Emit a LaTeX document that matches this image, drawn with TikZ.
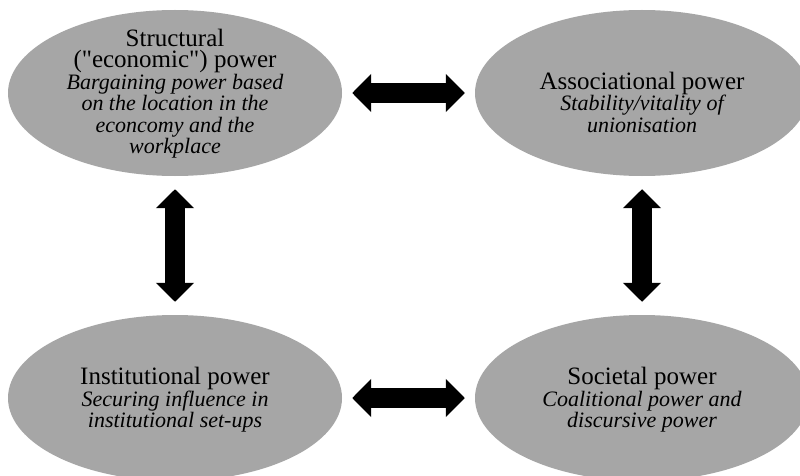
\documentclass[tikz,border=0pt]{standalone}
\usepackage{fontspec}
\setmainfont{Liberation Serif}[Ligatures=TeXOff]
\usetikzlibrary{shapes.geometric,arrows.meta}
\definecolor{ellgrey}{RGB}{166,166,166}
\newcommand{\ttl}{\fontsize{25}{21.5}\selectfont}
\newcommand{\sbt}{\fontsize{22}{21.5}\selectfont\itshape}
\tikzset{
  ell/.style={ellipse, fill=ellgrey, draw=none, minimum width=334pt, minimum height=166pt, inner sep=0pt},
  txt/.style={align=center, inner sep=0pt, font={\lineskiplimit=-30pt\lineskip=0pt\ttl}},
  bigarrow/.style={draw=black, line width=20pt, {Triangle[length=19pt,width=37pt]}-{Triangle[length=19pt,width=37pt]}},
  hgap/.style={shorten <=10pt, shorten >=10pt},
  vgap/.style={shorten <=13pt, shorten >=13pt}
}
\begin{document}
\begin{tikzpicture}[x=1pt,y=-1pt]
\fill[white] (0,0) rectangle (800,476);
\clip (0,0) rectangle (800,476);
\node[ell] (sl) at (175,93) {};
\node[ell] (al) at (642,93) {};
\node[ell] (il) at (175,398) {};
\node[ell] (sp) at (642,398) {};
\node[txt] (slt) at ([yshift=-0.5pt]sl.center) {{\ttl Structural}\\{\ttl ("economic") power}\\{\sbt Bargaining power based}\\{\sbt on the location in the}\\{\sbt econcomy and the}\\{\sbt workplace}};
\node[txt] (alt) at ([yshift=-9pt]al.center) {{\ttl Associational power}\\{\sbt Stability/vitality of}\\{\sbt unionisation}};
\node[txt] (ilt) at ([yshift=-2pt]il.center) {{\ttl Institutional power}\\{\sbt Securing influence in}\\{\sbt institutional set-ups}};
\node[txt] (spt) at ([yshift=-2pt]sp.center) {{\ttl Societal power}\\{\sbt Coalitional power and}\\{\sbt discursive power}};
\draw[bigarrow,hgap] (sl) -- (al);
\draw[bigarrow,hgap] (il) -- (sp);
\draw[bigarrow,vgap] (sl) -- (il);
\draw[bigarrow,vgap] (al) -- (sp);
\end{tikzpicture}
\end{document}
